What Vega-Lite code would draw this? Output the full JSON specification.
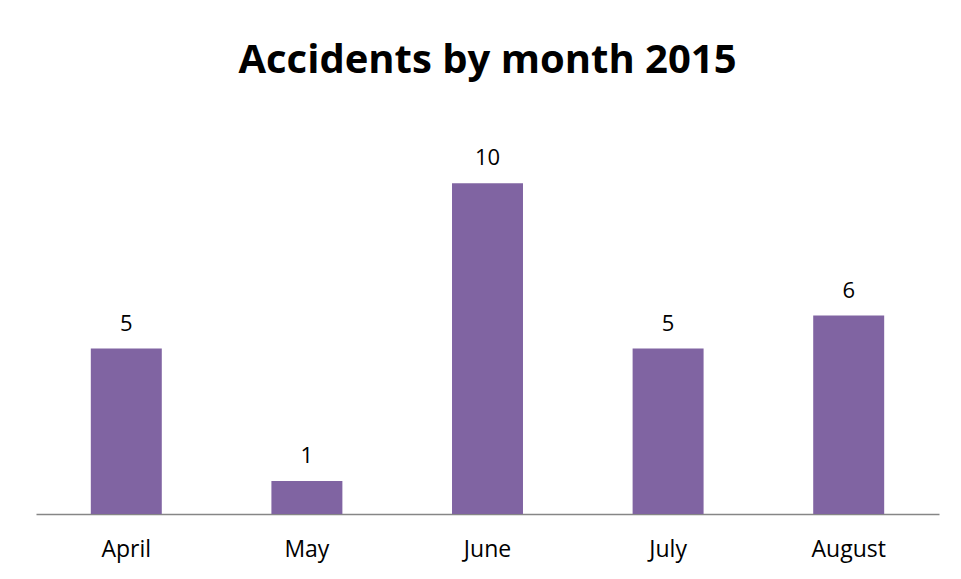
{
  "$schema": "https://vega.github.io/schema/vega-lite/v6.json",
  "width": 903,
  "height": 397,
  "autosize": "none",
  "padding": {"left": 36, "top": 117, "right": 22, "bottom": 65},
  "background": "white",
  "title": {
    "text": "Accidents by month 2015",
    "font": "Open Sans",
    "fontSize": 40,
    "fontWeight": "bold",
    "color": "#000000",
    "anchor": "middle",
    "offset": 36
  },
  "data": {
    "values": [
      {"month": "April", "accidents": 5},
      {"month": "May", "accidents": 1},
      {"month": "June", "accidents": 10},
      {"month": "July", "accidents": 5},
      {"month": "August", "accidents": 6}
    ]
  },
  "encoding": {
    "x": {
      "field": "month",
      "type": "nominal",
      "sort": null,
      "scale": {"paddingInner": 0.607, "paddingOuter": 0.3035},
      "axis": {
        "title": null,
        "labelAngle": 0,
        "ticks": false,
        "domainColor": "#868686",
        "domainWidth": 1.5,
        "labelFont": "Open Sans",
        "labelFontSize": 23,
        "labelColor": "#000000",
        "labelPadding": 35,
        "labelBaseline": "middle"
      }
    },
    "y": {
      "field": "accidents",
      "type": "quantitative",
      "scale": {"domain": [0, 12]},
      "axis": null
    }
  },
  "layer": [
    {"mark": {"type": "bar", "color": "#8064A2"}},
    {
      "mark": {"type": "text", "baseline": "bottom", "dy": -13, "font": "Open Sans", "fontSize": 22, "color": "#000000"},
      "encoding": {"text": {"field": "accidents", "type": "quantitative"}}
    }
  ],
  "config": {"view": {"stroke": null}}
}
